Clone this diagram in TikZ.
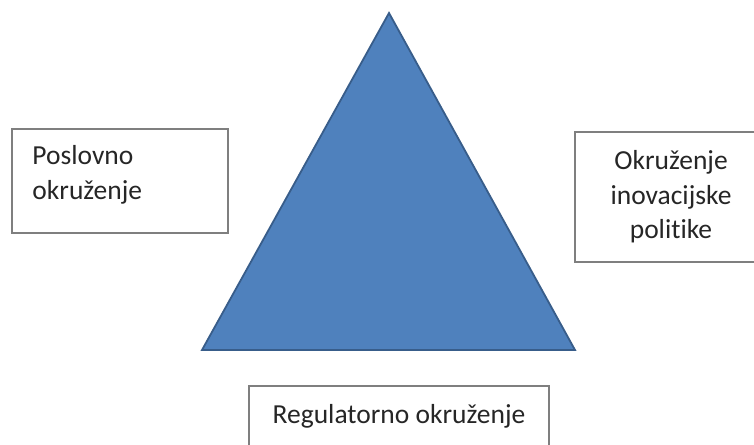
\documentclass[tikz,border=0pt]{standalone}
\usepackage{fontspec}
\setmainfont[Ligatures={NoCommon}]{Carlito}
\definecolor{triFill}{HTML}{4F81BD}
\definecolor{triLine}{HTML}{385D8A}
\definecolor{boxLine}{HTML}{7F7F7F}
\definecolor{txtCol}{HTML}{262626}
\begin{document}
\begin{tikzpicture}[x=1pt,y=-1pt,
  envbox/.style={draw=boxLine, line width=1.5pt, fill=white, inner sep=0pt},
  envtext/.style={text=txtCol, font=\fontsize{27.5pt}{34.5pt}\selectfont, inner sep=0pt},
  tri/.style={fill=triFill, draw=triLine, line width=1.8pt, line join=miter}]
\useasboundingbox (0,0) rectangle (754,444);
\clip (0,0) rectangle (754,444);
% triangle
\coordinate (apex) at (389,13);
\coordinate (bl) at (202,350);
\coordinate (br) at (575,350);
\draw[tri] (apex) -- (br) -- (bl) -- cycle;
% left box
\node[envbox, minimum width=216pt, minimum height=104pt] (posl) at (120,181) {};
\node[envtext, anchor=north west, align=left] (posltxt) at ([xshift=21pt,yshift=-17pt]posl.north west) {Poslovno\\okruženje};
% right box
\node[envbox, envtext, draw=boxLine, line width=1.5pt, minimum width=192pt, minimum height=130pt, align=center] (inov) at (671,197) {Okruženje\\inovacijske\\politike};
% bottom box
\node[envbox, envtext, draw=boxLine, line width=1.5pt, minimum width=300pt, minimum height=60pt] (reg) at (399,416) {Regulatorno okruženje};
\end{tikzpicture}
\end{document}
